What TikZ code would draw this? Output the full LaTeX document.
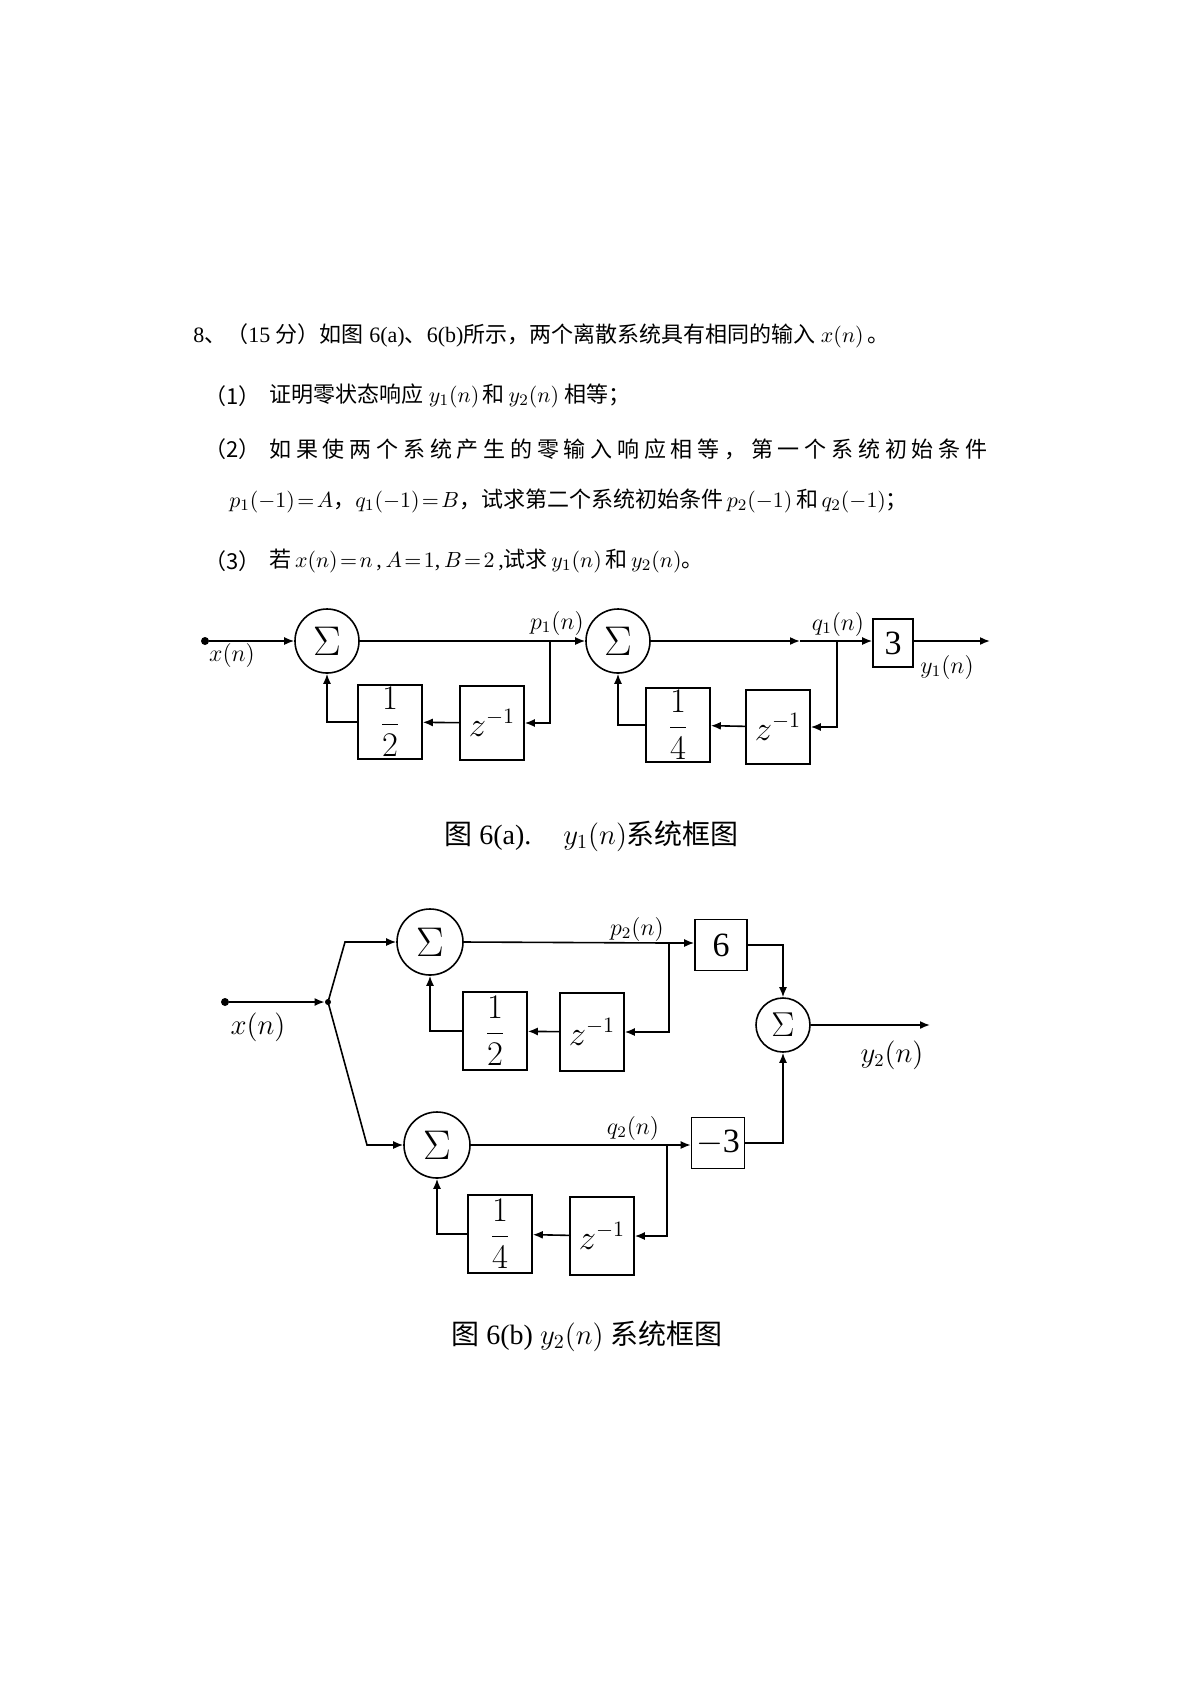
\documentclass[tikz,border=0pt]{standalone}
\usepackage{fontspec}
\setmainfont{Liberation Serif}
\newfontfamily\cjkfont{Noto Sans CJK SC}
\newcommand{\zh}[1]{{\cjkfont #1}}
\newcommand{\tightmath}{\thickmuskip=2mu\relax\medmuskip=1mu\relax}
\usetikzlibrary{arrows.meta}
\tikzset{
  conn/.style={line width=0.8pt},
  arr/.style={conn,-{Latex[length=5pt,width=4pt]}},
  sumbig/.style={draw,line width=0.8pt,circle,minimum size=32pt,inner sep=0pt,font=\fontsize{22}{22}\selectfont},
  sumsmall/.style={draw,line width=0.8pt,circle,minimum size=27pt,inner sep=0pt,font=\fontsize{18}{18}\selectfont},
  blk/.style={draw,line width=0.8pt,rectangle,minimum width=32pt,minimum height=37pt,inner sep=0pt,font=\fontsize{16}{16}\selectfont},
  gain/.style={draw,line width=0.8pt,rectangle,inner sep=0pt,font=\fontsize{17}{17}\selectfont},
  dotnode/.style={circle,fill,minimum size=4pt,inner sep=0pt},
  qtext/.style={anchor=west,inner sep=0pt,font=\fontsize{11}{12}\selectfont\tightmath},
  lblA/.style={inner sep=0pt,font=\fontsize{12}{13}\selectfont},
  lblB/.style={inner sep=0pt,font=\fontsize{13.5}{14}\selectfont},
  capt/.style={anchor=west,inner sep=0pt,font=\fontsize{14}{15}\selectfont},
}
\begin{document}
\begin{tikzpicture}[x=0.5pt,y=-0.5pt]
\useasboundingbox[fill=white] (0,0) rectangle (1190,1683);

% ---------- question text ----------
\node[qtext] (t1) at (193,336) {8\zh{、（}15 \zh{分）如图} 6(a)\zh{、}6(b)\zh{所示，两个离散系统具有相同的输入} $x(n)$\,\zh{。}};
\node[qtext] (t2n) at (204,396) {\zh{（1）}};
\node[qtext] (t2) at (269,396) {\zh{证明零状态响应} $y_1(n)$\,\zh{和}\,$y_2(n)$ \zh{相等；}};
\node[qtext] (t3n) at (204,449) {\zh{（2）}};
\node[qtext] (t3) at (269,449) {\hbox to 359pt{\cjkfont 如\hfill 果\hfill 使\hfill 两\hfill 个\hfill 系\hfill 统\hfill 产\hfill 生\hfill 的\hfill 零\hfill 输\hfill 入\hfill 响\hfill 应\hfill 相\hfill 等\hfill ，\hfill 第\hfill 一\hfill 个\hfill 系\hfill 统\hfill 初\hfill 始\hfill 条\hfill 件}};
\node[qtext] (t4) at (229,501) {$p_1(-1)=A$\zh{，}$q_1(-1)=B$\zh{，试求第二个系统初始条件}\,$p_2(-1)$\,\zh{和}\,$q_2(-1)$\zh{；}};
\node[qtext] (t5n) at (204,561) {\zh{（3）}};
\node[qtext] (t5) at (269,561) {\zh{若}\,$x(n)=n$\,,\,$A=1$,\,$B=2$\,,\zh{试求}\,$y_1(n)$\,\zh{和}\,$y_2(n)$\zh{。}};

% ---------- figure 6(a) ----------
\node[dotnode] (xa) at (205,641) {};
\node[sumbig] (s1) at (327,641) {$\Sigma$};
\node[blk] (h1) at (390,722) {$\displaystyle\frac{1}{2}$};
\node[blk] (d1) at (492,723) {$z^{-1}$};
\coordinate (b1) at (550,641);
\node[sumbig] (s2) at (618,641) {$\Sigma$};
\node[blk] (h2) at (678,725) {$\displaystyle\frac{1}{4}$};
\node[blk] (d2) at (778,727) {$z^{-1}$};
\coordinate (m2) at (800,641);
\coordinate (b2) at (837,641);
\node[gain,minimum width=20pt,minimum height=24pt] (g3) at (893,643) {3};
\coordinate (o1) at (990,641);

\draw[arr] (xa) -- (s1);
\draw[arr] (s1) -- (s2);
\draw[arr] (b1) |- (d1.east);
\draw[arr] (d1) -- (h1);
\draw[arr] (h1.west) -| (s1.south);
\draw[arr] (s2) -- (m2);
\draw[conn] (m2) -- (b2);
\draw[arr] (b2) -- (b2 -| g3.west);
\draw[arr] (b2) |- (d2.east);
\draw[arr] (d2) -- (h2);
\draw[arr] (h2.west) -| (s2.south);
\draw[arr] (b2 -| g3.east) -- (o1);

\node[lblA] (lxa) at (232,655) {$x(n)$};
\node[lblA] (lp1) at (557,623) {$p_1(n)$};
\node[lblA] (lq1) at (838,624) {$q_1(n)$};
\node[lblA] (ly1) at (947,667) {$y_1(n)$};

\node[capt] (capa) at (444,836) {\zh{图} 6(a).\hspace{16pt}$y_1(n)$\zh{系统框图}};

% ---------- figure 6(b) ----------
\node[dotnode] (xb) at (225,1002) {};
\node[dotnode,minimum size=3pt] (j) at (328,1002) {};
\coordinate (u) at (345,942);
\coordinate (l) at (367,1145);
\node[sumbig,minimum size=33pt] (su) at (430,942) {$\Sigma$};
\node[sumbig,minimum size=33pt] (sl) at (437,1145) {$\Sigma$};
\node[blk,minimum height=39pt] (h3) at (495,1031) {$\displaystyle\frac{1}{2}$};
\node[blk,minimum height=39pt] (d3) at (592,1032) {$z^{-1}$};
\coordinate (b3) at (669,943);
\node[gain,minimum width=26pt,minimum height=25.5pt] (g6) at (721,945) {6};
\node[sumsmall] (sr) at (783,1025) {$\Sigma$};
\coordinate (o2) at (930,1025);
\node[blk,minimum height=39pt] (h4) at (500,1234) {$\displaystyle\frac{1}{4}$};
\node[blk,minimum height=39pt] (d4) at (602,1236) {$z^{-1}$};
\coordinate (b4) at (667,1145);
\node[gain,minimum width=26.5pt,minimum height=25.5pt] (g7) at (718,1143) {$-$3};

\draw[arr] (xb) -- (j);
\draw[arr] (j.center) -- (u) -- (su.west);
\draw[arr] (j.center) -- (l) -- (sl.west);
\draw[conn] (su.east) -- (b3);
\draw[arr] (b3) -- (b3 -| g6.west);
\draw[arr] (b3) |- (d3.east);
\draw[arr] (d3) -- (h3);
\draw[arr] (h3.west) -| (su.south);
\draw[conn] (sl.east) -- (b4);
\draw[arr] (b4) -- (b4 -| g7.west);
\draw[arr] (b4) |- (d4.east);
\draw[arr] (d4) -- (h4);
\draw[arr] (h4.west) -| (sl.south);
\draw[arr] (g6.east) -| (sr.north);
\draw[arr] (g7.east) -| (sr.south);
\draw[arr] (sr.east) -- (o2);

\node[lblB] (lxb) at (258,1027) {$x(n)$};
\node[lblA] (lp2) at (637,929) {$p_2(n)$};
\node[lblA] (lq2) at (633,1128) {$q_2(n)$};
\node[lblB] (ly2) at (892,1055) {$y_2(n)$};

\node[capt] (capb) at (451,1336) {\zh{图} 6(b) $y_2(n)$ \zh{系统框图}};
\end{tikzpicture}
\end{document}
